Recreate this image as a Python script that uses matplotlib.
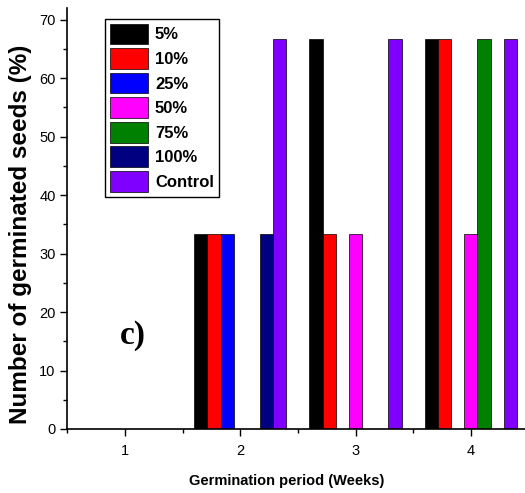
import numpy as np
import matplotlib.pyplot as plt

weeks = [1, 2, 3, 4]
labels = ["5%", "10%", "25%", "50%", "75%", "100%", "Control"]
colors = ["#000000", "#ff0000", "#0000ff", "#ff00ff", "#008000", "#000080", "#8000ff"]

# germination (%) per concentration, weeks 1-4
g5 = [0, 33.3, 66.7, 66.7]
g10 = [0, 33.3, 33.3, 66.7]
g25 = [0, 33.3, 0, 0]
g50 = [0, 0, 33.3, 33.3]
g75 = [0, 0, 0, 66.7]
g100 = [0, 33.3, 0, 0]
gctrl = [0, 66.7, 66.7, 66.7]
series = [g5, g10, g25, g50, g75, g100, gctrl]

fig = plt.figure(figsize=(5.25, 4.93), dpi=100)
ax = fig.add_axes([67.4/525, 64/493, (525-67.4)/525, 421/493])

w = 0.8/7
x = np.array(weeks, dtype=float)
for i, (vals, lab, c) in enumerate(zip(series, labels, colors)):
    ax.bar(x - 0.4 + w*(i+0.5), vals, width=w, color=c, edgecolor='black',
           linewidth=0.5, label=lab)

ax.set_xlim(0.5, 4.47)
ax.set_ylim(0, 72)
ax.set_xticks([1, 2, 3, 4])
ax.set_xticks([0.5, 1.5, 2.5, 3.5], minor=True)
ax.set_yticks(range(0, 71, 10))
ax.set_yticks(range(5, 71, 10), minor=True)
ax.tick_params(which='major', direction='out', length=5, width=1, labelsize=10.5)
ax.tick_params(axis='x', which='major', pad=6)
ax.tick_params(which='minor', direction='out', length=3, width=1)
for t in ax.get_xticklabels() + ax.get_yticklabels():
    t.set_fontfamily('Liberation Sans')

for s in ['top', 'right']:
    ax.spines[s].set_visible(False)
for s in ['left', 'bottom']:
    ax.spines[s].set_linewidth(1.2)

ax.set_xlabel("Germination period (Weeks)", fontsize=10.5, fontweight='bold',
              family='Liberation Sans')
ax.xaxis.set_label_coords(0.48, -0.106)
ax.set_ylabel("Number of germinated seeds (%)", fontsize=17.5, fontweight='bold',
              family='Liberation Sans')
ax.yaxis.set_label_coords(-0.077, 0.462)

ax.text(0.143, 0.221, "c)", transform=ax.transAxes, fontsize=24, fontweight='bold',
        family='Liberation Serif', ha='center', va='center')

leg = ax.legend(loc='upper left', bbox_to_anchor=(0.082, 0.975), borderaxespad=0,
                prop={'family': 'Liberation Sans', 'weight': 'bold', 'size': 12},
                handlelength=2.3, handleheight=1.55, labelspacing=0.22,
                handletextpad=0.4, borderpad=0.3, fancybox=False,
                framealpha=1, edgecolor='black')
leg.get_frame().set_linewidth(1)

fig.savefig("out.png", dpi=100)
